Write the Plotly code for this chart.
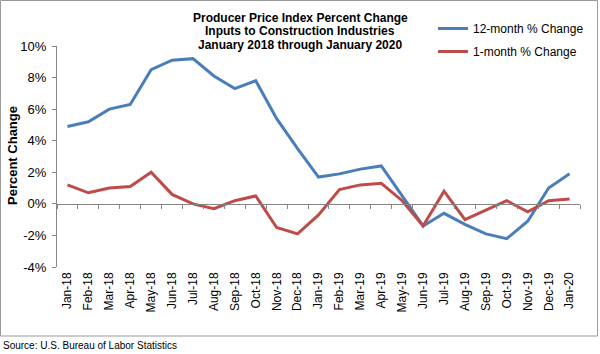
import plotly.graph_objects as go

months = ["Jan-18", "Feb-18", "Mar-18", "Apr-18", "May-18", "Jun-18", "Jul-18", "Aug-18",
          "Sep-18", "Oct-18", "Nov-18", "Dec-18", "Jan-19", "Feb-19", "Mar-19", "Apr-19",
          "May-19", "Jun-19", "Jul-19", "Aug-19", "Sep-19", "Oct-19", "Nov-19", "Dec-19", "Jan-20"]
twelve_month = [4.9, 5.2, 6.0, 6.3, 8.5, 9.1, 9.2, 8.1, 7.3, 7.8, 5.4, 3.5, 1.7, 1.9, 2.2, 2.4,
                0.5, -1.4, -0.6, -1.3, -1.9, -2.2, -1.1, 1.0, 1.9]
one_month = [1.2, 0.7, 1.0, 1.1, 2.0, 0.6, 0.0, -0.3, 0.2, 0.5, -1.5, -1.9, -0.7, 0.9, 1.2, 1.3,
             0.2, -1.4, 0.8, -1.0, -0.4, 0.2, -0.5, 0.2, 0.3]
y_ticks = [-4, -2, 0, 2, 4, 6, 8, 10]
y_tick_labels = [f"{v}%" for v in y_ticks]
title_lines = ["Producer Price Index Percent Change",
               "Inputs to Construction Industries",
               "January 2018 through January 2020"]
series_names = ["12-month % Change", "1-month % Change"]
source_text = "Source: U.S. Bureau of Labor Statistics"

FONT = "Arial, Liberation Sans, sans-serif"
BLUE = "#4A7EBB"
RED = "#BE4B48"
GRAY = "#868686"

W, H = 600, 354
L, R, T, B = 57, 20, 46, 87
pw, ph = W - L - R, H - T - B


def px_x(x):
    return (x - L) / pw


def px_y(y):
    return (H - B - y) / ph


fig = go.Figure()
fig.add_trace(go.Scatter(x=months, y=twelve_month, mode="lines", name=series_names[0],
                         line=dict(color=BLUE, width=3), legendgroup="a"))
fig.add_trace(go.Scatter(x=months, y=one_month, mode="lines", name=series_names[1],
                         line=dict(color=RED, width=3), legendgroup="b"))
# helper trace so the zero-crossing category axis renders
fig.add_trace(go.Scatter(x=months, y=one_month, mode="lines", xaxis="x2", showlegend=False,
                         line=dict(width=0), opacity=0, hoverinfo="skip"))

fig.update_layout(
    width=W, height=H,
    margin=dict(l=L, r=R, t=T, b=B, autoexpand=False),
    paper_bgcolor="white", plot_bgcolor="white",
    font=dict(family=FONT, size=12, color="black"),
    showlegend=True,
    legend=dict(x=px_x(433), y=px_y(14), xanchor="left", yanchor="top",
                font=dict(size=12), bgcolor="rgba(0,0,0,0)", tracegroupgap=4,
                traceorder="grouped"),
    xaxis=dict(type="category", categoryorder="array", categoryarray=months,
               range=[-0.5, len(months) - 0.5], showgrid=False, showline=False,
               zeroline=False, ticks="", tickangle=-90, tickfont=dict(size=12),
               ticklabelstandoff=2, automargin=False),
    xaxis2=dict(type="category", categoryorder="array", categoryarray=months,
                matches="x", overlaying="x", anchor="free", position=4 / 14,
                showline=True, linecolor=GRAY, linewidth=1, ticks="outside",
                tickson="boundaries", ticklen=4, tickcolor=GRAY, showticklabels=False,
                showgrid=False, zeroline=False),
    yaxis=dict(range=[-4, 10], tickvals=y_ticks, ticktext=y_tick_labels, showgrid=False,
               zeroline=False, showline=True, linecolor=GRAY, linewidth=1, ticks="outside",
               ticklen=4, tickcolor=GRAY, tickfont=dict(size=13), ticklabelstandoff=3,
               automargin=False),
)

for i, line in enumerate(title_lines):
    fig.add_annotation(text=f"<b>{line}</b>", x=px_x(300), y=px_y(17.5 + i * 13.5),
                       xref="paper", yref="paper", xanchor="center", yanchor="middle",
                       showarrow=False, font=dict(size=12))

fig.add_annotation(text="<b>Percent Change</b>", x=px_x(12), y=px_y(156), xref="paper",
                   yref="paper", xanchor="center", yanchor="middle", textangle=-90,
                   showarrow=False, font=dict(size=13))

fig.add_annotation(text=source_text, x=px_x(1), y=px_y(345), xref="paper", yref="paper",
                   xanchor="left", yanchor="middle", showarrow=False, font=dict(size=10))

fig.add_shape(type="rect", xref="paper", yref="paper", x0=px_x(0.5), x1=px_x(597.5),
              y0=px_y(336), y1=px_y(0.5), line=dict(color="#9a9a9a", width=1),
              fillcolor="rgba(0,0,0,0)", layer="below")

fig.write_html("out.html")
